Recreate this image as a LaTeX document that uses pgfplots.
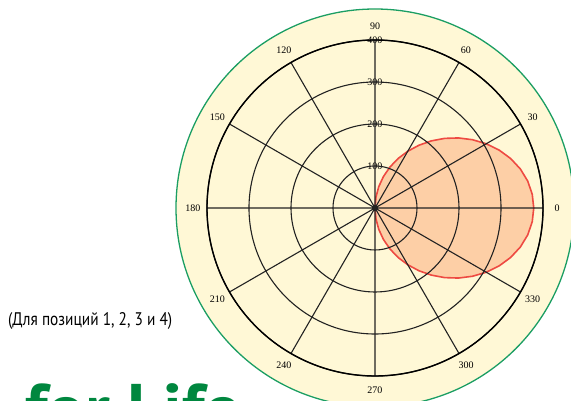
\documentclass[border=0pt]{standalone}
\usepackage{pgfplots}
\pgfplotsset{compat=1.18}
\usepgfplotslibrary{polar}
\usepackage{fontspec}
\setmainfont{Liberation Serif}
\newfontfamily\ptsans{PT Sans}

\definecolor{cream}{HTML}{FFF8D6}
\definecolor{ring}{HTML}{1B9E63}
\definecolor{lobefill}{HTML}{FDCFA6}
\definecolor{lobeline}{HTML}{EE4A42}
\definecolor{gridc}{HTML}{222222}
\definecolor{brand}{HTML}{00873F}

\begin{document}
\begin{tikzpicture}[x=1pt,y=1pt]
\path[use as bounding box] (0,0) rectangle (571,401);
\clip (0,0) rectangle (571,401);

% outer disc
\fill[cream] (375,193) circle (199);
\draw[ring, line width=1.3pt] (375,193) circle (199);

\begin{polaraxis}[
  at={(375pt,193pt)}, anchor=center,
  scale only axis, width=336pt, height=336pt,
  xmin=0, xmax=360, ymin=0, ymax=400,
  xtick={0,30,...,330},
  ytick={100,200,300,400}, yticklabels={},
  major tick length=0pt,
  xmajorgrids, ymajorgrids,
  major grid style={gridc, line width=1.1pt},
  axis line style={black, line width=1.4pt},
  y axis line style={draw=none},
  axis on top,
  xticklabel shift=14pt,
  xticklabel style={anchor=center, inner sep=0pt},
  ticklabel style={font=\fontsize{10}{12}\selectfont},
  /pgf/number format/assume math mode=true,
  clip=false,
]
\addplot[fill=lobefill, draw=lobeline, line width=1.6pt] coordinates {
  (-90,0) (-85,25.8) (-80,51.6) (-75,77.5) (-70,103.6) (-65,129.8)
  (-60,156.1) (-55,182.4) (-50,208.6) (-45,234.4) (-40,259.5) (-35,283.4)
  (-30,305.9) (-25,326.2) (-20,343.9) (-15,358.4) (-10,369.2) (-5,375.8)
  (0,378) (5,375.8) (10,369.2) (15,358.4) (20,343.9) (25,326.2)
  (30,305.9) (35,283.4) (40,259.5) (45,234.4) (50,208.6) (55,182.4)
  (60,156.1) (65,129.8) (70,103.6) (75,77.5) (80,51.6) (85,25.8) (90,0)
} -- cycle;
\node[font=\fontsize{10}{12}\selectfont, inner sep=0pt] at (axis cs:90,100) {100};
\node[font=\fontsize{10}{12}\selectfont, inner sep=0pt] at (axis cs:90,200) {200};
\node[font=\fontsize{10}{12}\selectfont, inner sep=0pt] at (axis cs:90,300) {300};
\node[font=\fontsize{10}{12}\selectfont, inner sep=0pt] at (axis cs:90,400) {400};
\end{polaraxis}

\node[anchor=north west, inner sep=0pt] at (8,89)
  {\resizebox*{164pt}{17pt}{\ptsans (Для позиций 1, 2, 3 и 4)}};
\node[anchor=north west, inner sep=0pt, text=brand] at (25,18)
  {\resizebox{215pt}{!}{\ptsans\bfseries for Life}};
\end{tikzpicture}
\end{document}
